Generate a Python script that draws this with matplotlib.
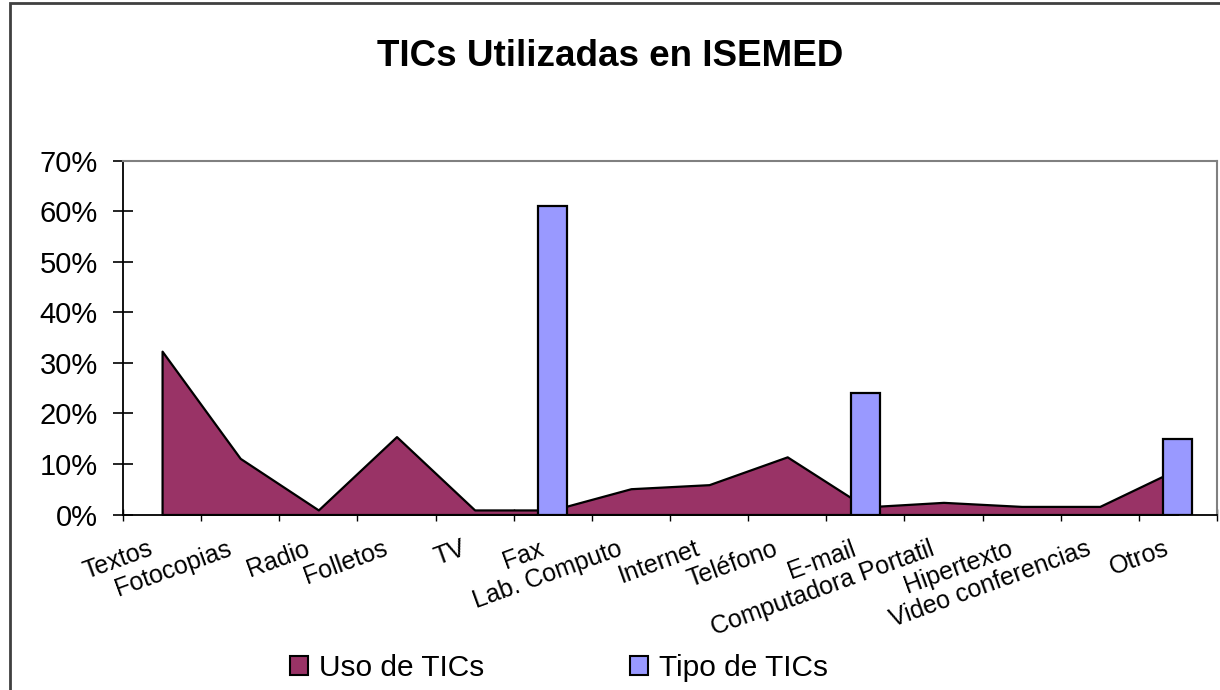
import numpy as np
import matplotlib
matplotlib.use("Agg")
import matplotlib.pyplot as plt
from matplotlib.patches import Rectangle, Patch
from matplotlib.ticker import FuncFormatter
from matplotlib.transforms import ScaledTranslation

plt.rcParams['font.family'] = ['Liberation Sans', 'DejaVu Sans']

categorias = ["Textos", "Fotocopias", "Radio", "Folletos", "TV", "Fax",
              "Lab. Computo", "Internet", "Teléfono", "E-mail",
              "Computadora Portatil", "Hipertexto", "Video conferencias", "Otros"]
# percentages
uso_tics = [32.3, 11.1, 0.9, 15.4, 0.9, 0.9, 5.1, 5.9, 11.4, 1.5, 2.4, 1.6, 1.6, 9.0]
tipo_tics = [0, 0, 0, 0, 0, 61, 0, 0, 0, 24, 0, 0, 0, 15]
yticks = [0, 10, 20, 30, 40, 50, 60, 70]

color_uso = "#993366"
color_tipo = "#9999FF"

fig = plt.figure(figsize=(12.2, 6.9), dpi=100)
ax = fig.add_axes([123 / 1220, 1 - 514.5 / 690, (1217 - 123) / 1220, (514.5 - 160.5) / 690])

x = np.arange(len(categorias))
uso = np.array(uso_tics) / 100
tipo = np.array(tipo_tics) / 100

# area series
ax.fill_between(x, uso, 0, facecolor=color_uso, edgecolor="black", linewidth=1.6, zorder=2)

# column series, only where there is a value
mask = tipo > 0
ax.bar(x[mask], tipo[mask], width=0.37, color=color_tipo, edgecolor="black",
       linewidth=1.6, zorder=3)

ax.set_xlim(-0.5, len(categorias) - 0.5)
ax.set_ylim(0, 0.70)
ax.set_yticks(np.array(yticks) / 100)
ax.yaxis.set_major_formatter(FuncFormatter(lambda v, p: f"{v * 100:.0f}%"))
ax.tick_params(axis="y", direction="inout", length=14, width=1.2, labelsize=21, pad=11)

# tick marks on category boundaries, labels on centres
ax.set_xticks(np.arange(-0.5, len(categorias)), minor=True)
ax.set_xticks(x)
ax.set_xticklabels(categorias, rotation=20, ha="right", va="center",
                   rotation_mode="anchor", fontsize=18)
ax.tick_params(axis="x", which="major", length=0, pad=24)
ax.tick_params(axis="x", which="minor", direction="inout", length=9, width=1.0)
shift = ScaledTranslation(-10 / 100, 0, fig.dpi_scale_trans)
for lbl in ax.get_xticklabels():
    lbl.set_transform(lbl.get_transform() + shift)

for side in ["top", "right"]:
    ax.spines[side].set_color("#808080")
    ax.spines[side].set_linewidth(1.5)
for side in ["left", "bottom"]:
    ax.spines[side].set_color("black")
    ax.spines[side].set_linewidth(1.3)

fig.text(0.5, 1 - 56 / 690, "TICs Utilizadas en ISEMED", ha="center", va="center",
         fontsize=26.5, fontweight="bold")

handles = [Patch(facecolor=color_uso, edgecolor="black", linewidth=1.5, label="Uso de TICs"),
           Patch(facecolor=color_tipo, edgecolor="black", linewidth=1.5, label="Tipo de TICs")]
fig.legend(handles=handles, loc="center", bbox_to_anchor=(559 / 1220, 1 - 668 / 690),
           ncol=2, frameon=False, fontsize=21.5, handlelength=0.58, handleheight=0.58,
           handletextpad=0.37, columnspacing=4.9)

# outer chart frame
fig.patches.append(Rectangle((10 / 1220, -0.05), 1.1, 1 - 3 / 690 + 0.05,
                             transform=fig.transFigure, fill=False,
                             edgecolor="#404040", linewidth=2))

fig.savefig("out.png", dpi=100)
